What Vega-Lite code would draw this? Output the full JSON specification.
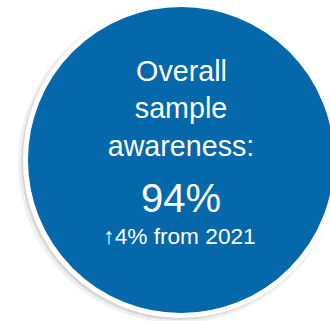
{
  "$schema": "https://vega.github.io/schema/vega-lite/v6.json",
  "width": 330,
  "height": 321,
  "padding": 0,
  "autosize": {"type": "none"},
  "background": "white",
  "config": {"view": {"stroke": null}},
  "datasets": {
    "circle": [{"cx": 181, "cy": 160}],
    "shadow1": [{"cx": 178, "cy": 163}],
    "shadow2": [{"cx": 179, "cy": 162}],
    "labels": [
      {"text": "Overall", "px": 181.5, "py": 81, "fs": 31},
      {"text": "sample", "px": 181, "py": 118, "fs": 31},
      {"text": "awareness:", "px": 181, "py": 156, "fs": 31},
      {"text": "94%", "px": 181, "py": 212, "fs": 48},
      {"text": "↑4% from 2021", "px": 179.5, "py": 244, "fs": 22}
    ]
  },
  "layer": [
    {
      "data": {"name": "shadow1"},
      "mark": {"type": "point", "shape": "circle", "filled": true, "fill": "#000000", "strokeWidth": 0, "size": 102400, "opacity": 0.06},
      "encoding": {
        "x": {"field": "cx", "type": "quantitative", "scale": {"domain": [0, 330]}, "axis": null},
        "y": {"field": "cy", "type": "quantitative", "scale": {"domain": [0, 321], "reverse": true}, "axis": null}
      }
    },
    {
      "data": {"name": "shadow2"},
      "mark": {"type": "point", "shape": "circle", "filled": true, "fill": "#000000", "strokeWidth": 0, "size": 99856, "opacity": 0.1},
      "encoding": {
        "x": {"field": "cx", "type": "quantitative", "scale": {"domain": [0, 330]}, "axis": null},
        "y": {"field": "cy", "type": "quantitative", "scale": {"domain": [0, 321], "reverse": true}, "axis": null}
      }
    },
    {
      "data": {"name": "circle"},
      "mark": {"type": "point", "shape": "circle", "filled": true, "fill": "#0468AB", "stroke": "#ffffff", "strokeWidth": 5, "opacity": 1, "size": 96721},
      "encoding": {
        "x": {"field": "cx", "type": "quantitative", "scale": {"domain": [0, 330]}, "axis": null},
        "y": {"field": "cy", "type": "quantitative", "scale": {"domain": [0, 321], "reverse": true}, "axis": null}
      }
    },
    {
      "data": {"name": "labels"},
      "mark": {"type": "text", "font": "Liberation Sans", "color": "#ffffff", "align": "center", "baseline": "alphabetic"},
      "encoding": {
        "x": {"field": "px", "type": "quantitative", "scale": {"domain": [0, 330]}, "axis": null},
        "y": {"field": "py", "type": "quantitative", "scale": {"domain": [0, 321], "reverse": true}, "axis": null},
        "text": {"field": "text", "type": "nominal"},
        "size": {"field": "fs", "type": "quantitative", "scale": {"type": "identity"}, "legend": null}
      }
    }
  ]
}
